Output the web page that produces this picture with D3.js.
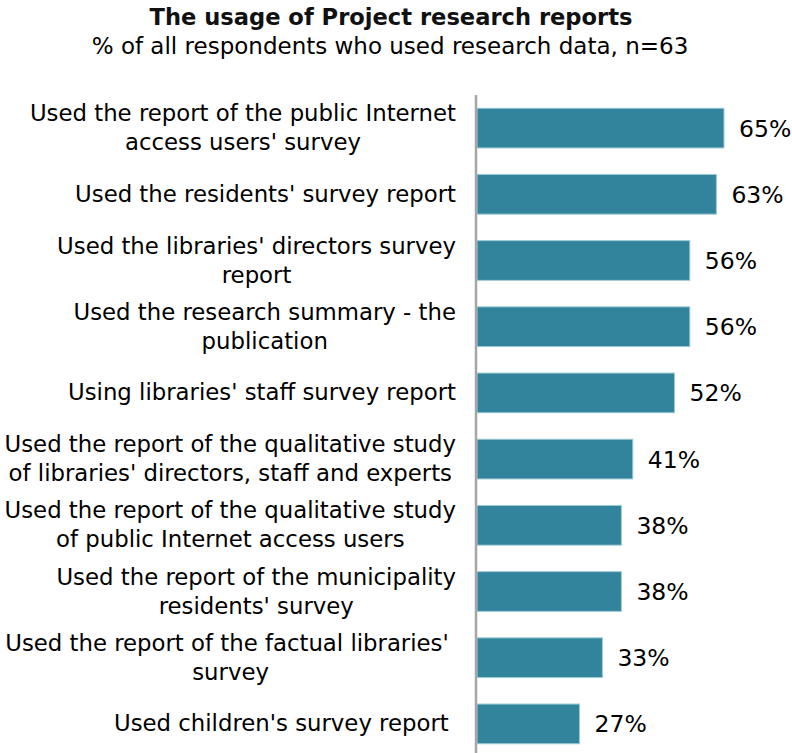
<!DOCTYPE html>
<html>
<head>
<meta charset="utf-8">
<script src="https://cdn.jsdelivr.net/npm/d3@7"></script>
<style>
  html, body { margin: 0; padding: 0; background: #fff; }
  svg { display: block; }
  text { font-family: "DejaVu Sans", Verdana, sans-serif; fill: #000; white-space: pre; }
</style>
</head>
<body>
<svg id="chart" width="792" height="753"></svg>
<script>
const titleText = "The usage of Project research reports";
const subtitleText = "% of all respondents who used research data, n=63";

const categories = [
  ["Used the report of the public Internet", "access users' survey"],
  ["Used the residents' survey report"],
  ["Used the libraries' directors survey", "report"],
  ["Used the research summary - the", "publication"],
  ["Using libraries' staff survey report"],
  ["Used the report of the qualitative study", "of libraries' directors, staff and experts"],
  ["Used the report of the qualitative study", "of public Internet access users"],
  ["Used the report of the municipality", "residents' survey"],
  ["Used the report of the factual libraries' ", "survey"],
  ["Used children's survey report "]
];
const values = [65, 63, 56, 56, 52, 41, 38, 38, 33, 27];
const valueLabels = ["65%", "63%", "56%", "56%", "52%", "41%", "38%", "38%", "33%", "27%"];

const svg = d3.select("#chart");

const x = d3.scaleLinear().domain([0, 100]).range([477, 857]);
const y = d3.scaleBand()
  .domain(d3.range(categories.length))
  .range([95, 757])
  .paddingInner(0.4)
  .paddingOuter(0.2);

// Title
svg.append("text")
  .attr("x", 391).attr("y", 25)
  .attr("text-anchor", "middle")
  .style("font-weight", "bold")
  .style("font-size", "22.6px")
  .style("fill", "#111")
  .text(titleText);

svg.append("text")
  .attr("x", 390).attr("y", 54)
  .attr("text-anchor", "middle")
  .style("font-size", "23px")
  .text(subtitleText);

// Bars
svg.append("g").selectAll("rect")
  .data(values)
  .join("rect")
  .attr("x", x(0))
  .attr("y", (d, i) => y(i))
  .attr("width", d => x(d) - x(0))
  .attr("height", y.bandwidth())
  .attr("fill", "#31849b")
  .attr("stroke", "#9fcbd6")
  .attr("stroke-width", 1);

// Axis line (category axis)
svg.append("line")
  .attr("x1", 476).attr("x2", 476)
  .attr("y1", 95).attr("y2", 753)
  .attr("stroke", "#a6a6a6")
  .attr("stroke-width", 2.5);

// Value labels
svg.append("g").selectAll("text")
  .data(values)
  .join("text")
  .attr("x", d => x(d) + 15)
  .attr("y", (d, i) => y(i) + y.bandwidth() / 2 + 8.5)
  .style("font-size", "23.5px")
  .text((d, i) => valueLabels[i]);

// Category labels: block right-aligned, lines centered within block
const labelRight = 456;
const lineH = 29;
const lg = svg.append("g");
categories.forEach((lines, i) => {
  const cy = y(i) + y.bandwidth() / 2;
  const g = lg.append("g");
  const texts = lines.map((ln, k) => g.append("text")
    .style("font-size", "22.8px")
    .attr("text-anchor", "middle")
    .attr("y", cy + (k - (lines.length - 1) / 2) * lineH + 7.5)
    .text(ln));
  const maxW = d3.max(texts, t => t.node().getComputedTextLength());
  texts.forEach(t => t.attr("x", labelRight - maxW / 2));
});
</script>
</body>
</html>
